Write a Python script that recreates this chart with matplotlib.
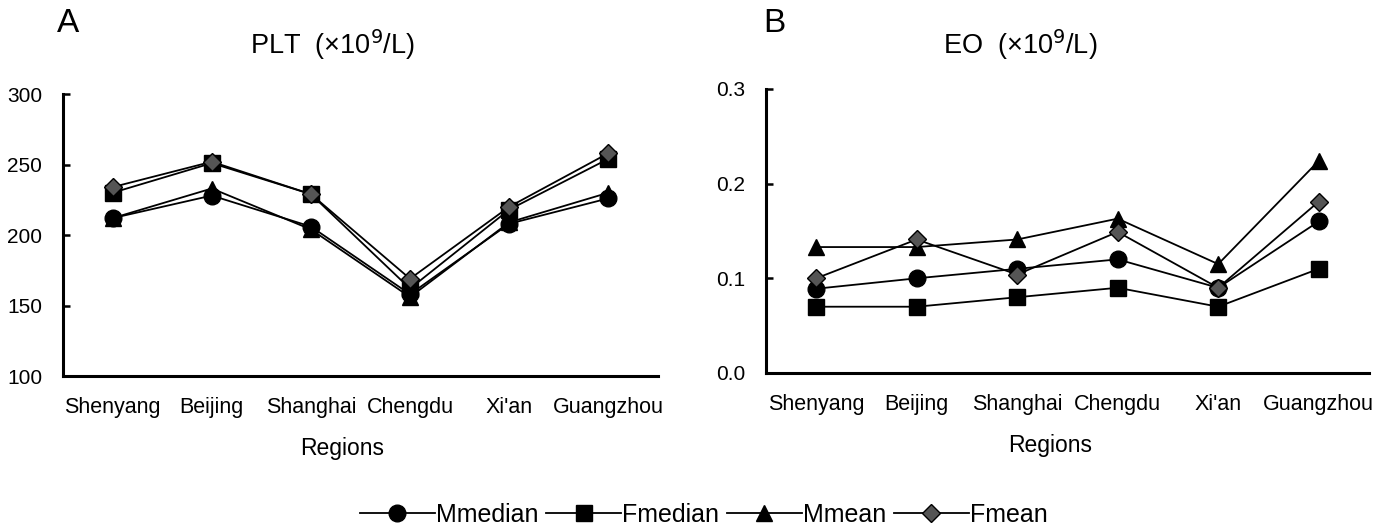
import matplotlib
matplotlib.use("Agg")
import matplotlib.pyplot as plt
from matplotlib.lines import Line2D

plt.rcParams['font.family'] = ['Liberation Sans', 'DejaVu Sans']

regions = ["Shenyang", "Beijing", "Shanghai", "Chengdu", "Xi'an", "Guangzhou"]
series = ["Mmedian", "Fmedian", "Mmean", "Fmean"]

# PLT (x10^9/L)
plt_mmedian = [212, 228, 206, 158, 208, 226]
plt_fmedian = [230, 251, 229, 162, 218, 254]
plt_mmean = [212, 233, 204, 156, 209, 230]
plt_fmean = [234, 252, 229, 169, 220, 258]

# EO (x10^9/L)
eo_mmedian = [0.089, 0.10, 0.11, 0.12, 0.09, 0.16]
eo_fmedian = [0.07, 0.07, 0.08, 0.09, 0.07, 0.11]
eo_mmean = [0.133, 0.133, 0.141, 0.163, 0.115, 0.224]
eo_fmean = [0.10, 0.141, 0.104, 0.149, 0.09, 0.181]

styles = {
    "Mmedian": dict(marker="o", ms=12, mfc="black"),
    "Fmedian": dict(marker="s", ms=12, mfc="black"),
    "Mmean": dict(marker="^", ms=12, mfc="black"),
    "Fmean": dict(marker="D", ms=8.7, mfc="#555555"),
}


def draw(ax, data, ylim, yticks, fmt, xlab_x):
    x = range(len(regions))
    for name in series:
        st = styles[name]
        ax.plot(x, data[name], color="black", lw=1.3, marker=st["marker"],
                ms=st["ms"], mfc=st["mfc"], mec="black", mew=1.0)
    ax.set_xlim(-0.5, len(regions) - 0.5)
    ax.set_ylim(*ylim)
    ax.set_yticks(yticks)
    ax.set_yticklabels([fmt.format(v) for v in yticks], fontsize=15)
    ax.set_xticks(list(x))
    ax.set_xticklabels(regions, fontsize=15.5)
    ax.tick_params(axis="x", length=0, pad=15)
    ax.tick_params(axis="y", direction="in", length=5, width=1.8, pad=15)
    for s in ("top", "right"):
        ax.spines[s].set_visible(False)
    for s in ("left", "bottom"):
        ax.spines[s].set_linewidth(2.2)
    ax.set_xlabel("Regions", fontsize=16.5)
    ax.xaxis.set_label_coords(xlab_x, -0.215)


fig = plt.figure(figsize=(13.8, 5.29), dpi=100)
axA = fig.add_axes([0.0457, 0.2892, 0.431, 0.533])
axB = fig.add_axes([0.555, 0.2949, 0.437, 0.537])

draw(axA, {"Mmedian": plt_mmedian, "Fmedian": plt_fmedian,
           "Mmean": plt_mmean, "Fmean": plt_fmean},
     (100, 300), [100, 150, 200, 250, 300], "{:.0f}", 0.469)
draw(axB, {"Mmedian": eo_mmedian, "Fmedian": eo_fmedian,
           "Mmean": eo_mmean, "Fmean": eo_fmean},
     (0, 0.3), [0.0, 0.1, 0.2, 0.3], "{:.1f}", 0.471)

fig.text(0.241, 0.915, r"PLT  (×10$^{9}$/L)", fontsize=19.5, ha="center", va="center")
fig.text(0.739, 0.915, r"EO  (×10$^{9}$/L)", fontsize=19.5, ha="center", va="center")
fig.text(0.041, 0.955, "A", fontsize=24, ha="left", va="center")
fig.text(0.553, 0.955, "B", fontsize=24, ha="left", va="center")

handles = [Line2D([], [], color="black", lw=1.3, marker=styles[n]["marker"],
                  ms=styles[n]["ms"], mfc=styles[n]["mfc"], mec="black")
           for n in series]
fig.legend(handles, series, loc="center", bbox_to_anchor=(0.51, 0.027),
           ncol=4, frameon=False, fontsize=18, handlelength=3.0,
           handletextpad=0.05, columnspacing=0.3)

fig.savefig("out.png", dpi=100)
